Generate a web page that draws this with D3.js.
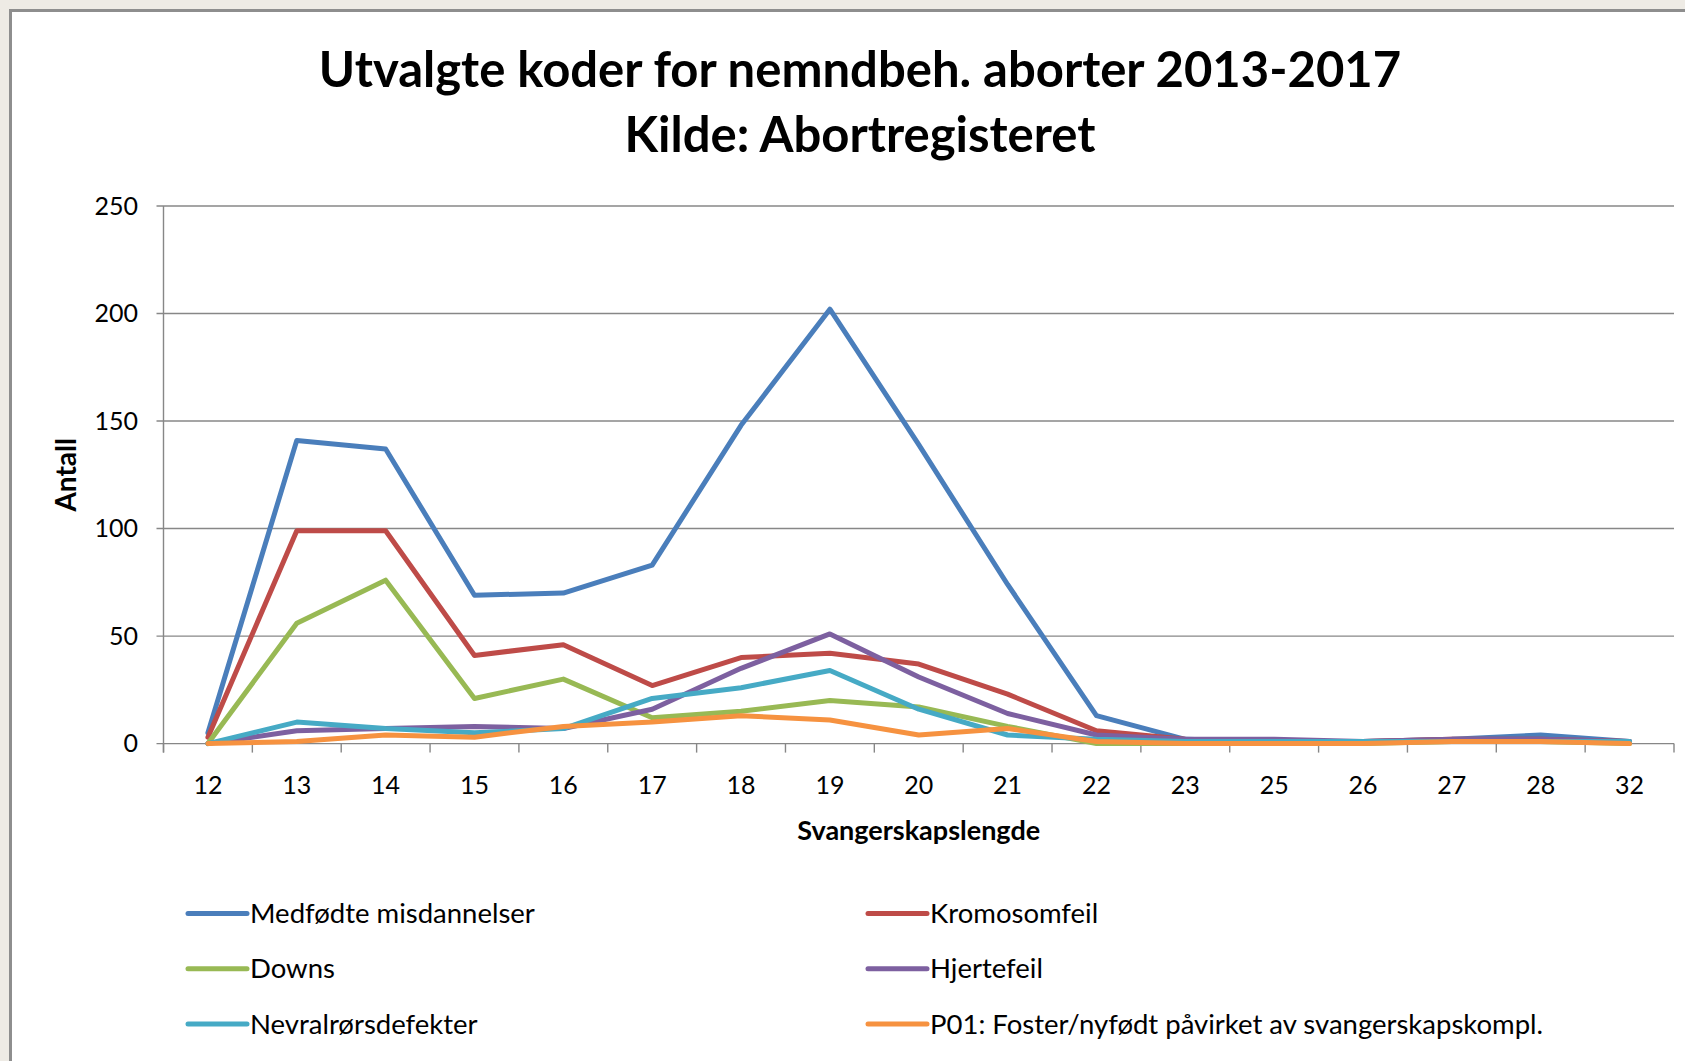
<!DOCTYPE html>
<html>
<head>
<meta charset="utf-8">
<script src="https://cdn.jsdelivr.net/npm/d3@7"></script>
<style>
  html, body { margin: 0; padding: 0; background: #eeebe5; overflow: hidden; }
  svg { display: block; }
  text { font-family: Lato, "Open Sans", sans-serif; fill: #000; }
</style>
</head>
<body>
<div class="container"></div>
<script>
// weeks of pregnancy (category axis)
var weeks = ["12", "13", "14", "15", "16", "17", "18", "19", "20", "21", "22", "23", "25", "26", "27", "28", "32"];

var medfodte  = [5, 141, 137, 69, 70, 83, 148, 202, 139, 74, 13, 2, 1, 1, 2, 4, 1];
var kromosom  = [3, 99, 99, 41, 46, 27, 40, 42, 37, 23, 6, 2, 1, 1, 2, 2, 1];
var downs     = [0, 56, 76, 21, 30, 12, 15, 20, 17, 8, 0, 0, 0, 0, 1, 1, 0];
var hjerte    = [0, 6, 7, 8, 7, 16, 35, 51, 31, 14, 4, 2, 2, 1, 2, 2, 1];
var nevral    = [0, 10, 7, 5, 7, 21, 26, 34, 16, 4, 2, 1, 1, 1, 1, 1, 1];
var p01       = [0, 1, 4, 3, 8, 10, 13, 11, 4, 7, 1, 0, 0, 0, 1, 1, 0];

var yTicks = [0, 50, 100, 150, 200, 250];

var seriesNames = ["Medfødte misdannelser", "Kromosomfeil", "Downs", "Hjertefeil", "Nevralrørsdefekter", "P01: Foster/nyfødt påvirket av svangerskapskompl."];
var seriesColors = ["#4a7ebb", "#be4b48", "#98b954", "#7d60a0", "#46aac5", "#f69240"];
var seriesValues = [medfodte, kromosom, downs, hjerte, nevral, p01];

!function () {
    var width = 1685, height = 1061;
    var left = 163.5, right = 1674, top = 206, bottom = 743.6;

    var svg = d3.select('.container')
        .append('svg')
        .attr('width', width)
        .attr('height', height);

    // white chart panel
    svg.append('rect')
        .attr('x', 10.5)
        .attr('y', 10.5)
        .attr('width', width)
        .attr('height', height)
        .attr('fill', '#fff')
        .attr('stroke', '#8e8e8e')
        .attr('stroke-width', 3);

    // title
    var title = svg.append('text')
        .attr('text-anchor', 'middle')
        .style('font-weight', 'bold')
        .style('font-size', '49px');
    title.append('tspan').attr('x', 860).attr('y', 87).text('Utvalgte koder for nemndbeh. aborter 2013-2017');
    title.append('tspan').attr('x', 860).attr('y', 152).text('Kilde: Abortregisteret');

    var x = d3.scaleBand()
        .domain(weeks)
        .range([left, right])
        .padding(0);

    var y = d3.scaleLinear()
        .domain([0, 250])
        .range([bottom, top]);

    // gridlines
    svg.append('g')
        .selectAll('line')
        .data(yTicks)
        .enter()
        .append('line')
        .attr('x1', left - 7)
        .attr('x2', right)
        .attr('y1', function (d) { return y(d); })
        .attr('y2', function (d) { return y(d); })
        .attr('stroke', '#878787')
        .attr('stroke-width', 1.4);

    // y axis line
    svg.append('line')
        .attr('x1', left).attr('x2', left)
        .attr('y1', top).attr('y2', bottom + 9)
        .attr('stroke', '#878787')
        .attr('stroke-width', 1.4);

    // y labels
    svg.append('g')
        .selectAll('text')
        .data(yTicks)
        .enter()
        .append('text')
        .attr('x', 138)
        .attr('y', function (d) { return y(d); })
        .attr('dy', '0.35em')
        .attr('text-anchor', 'end')
        .style('font-size', '25px')
        .text(function (d) { return d; });

    // x ticks between categories
    var bounds = weeks.map(function (w) { return x(w); }).concat([right]);
    svg.append('g')
        .selectAll('line')
        .data(bounds)
        .enter()
        .append('line')
        .attr('x1', function (d) { return d; })
        .attr('x2', function (d) { return d; })
        .attr('y1', bottom)
        .attr('y2', bottom + 9)
        .attr('stroke', '#878787')
        .attr('stroke-width', 1.4);

    // x labels
    svg.append('g')
        .selectAll('text')
        .data(weeks)
        .enter()
        .append('text')
        .attr('x', function (d) { return x(d) + x.bandwidth() / 2; })
        .attr('y', 785)
        .attr('dy', '0.35em')
        .attr('text-anchor', 'middle')
        .style('font-size', '25px')
        .text(function (d) { return d; });

    // axis titles
    svg.append('text')
        .attr('x', (left + right) / 2)
        .attr('y', 831)
        .attr('dy', '0.35em')
        .attr('text-anchor', 'middle')
        .style('font-weight', 'bold')
        .style('font-size', '27px')
        .text('Svangerskapslengde');

    svg.append('text')
        .attr('transform', 'translate(66,' + ((top + bottom) / 2) + ') rotate(-90)')
        .attr('dy', '0.35em')
        .attr('text-anchor', 'middle')
        .style('font-weight', 'bold')
        .style('font-size', '28px')
        .text('Antall');

    // lines
    var line = d3.line()
        .x(function (d, i) { return x(weeks[i]) + x.bandwidth() / 2; })
        .y(function (d) { return y(d); });

    svg.append('g')
        .selectAll('path')
        .data(seriesValues)
        .enter()
        .append('path')
        .attr('d', line)
        .attr('fill', 'none')
        .attr('stroke', function (d, i) { return seriesColors[i]; })
        .attr('stroke-width', 5)
        .attr('stroke-linejoin', 'round')
        .attr('stroke-linecap', 'round');

    // legend, two columns
    var legend = svg.append('g')
        .selectAll('g')
        .data(seriesNames)
        .enter()
        .append('g')
        .attr('transform', function (d, i) {
            var lx = i % 2 === 0 ? 188 : 868;
            var ly = 913.5 + Math.floor(i / 2) * 55.3;
            return 'translate(' + lx + ',' + ly + ')';
        });

    legend.append('line')
        .attr('x1', 0).attr('x2', 59)
        .attr('y1', 0).attr('y2', 0)
        .attr('stroke', function (d, i) { return seriesColors[i]; })
        .attr('stroke-width', 5)
        .attr('stroke-linecap', 'round');

    legend.append('text')
        .attr('x', 62)
        .attr('y', 0)
        .attr('dy', '0.35em')
        .style('font-size', '27.5px')
        .text(function (d) { return d; });
}();
</script>
</body>
</html>
